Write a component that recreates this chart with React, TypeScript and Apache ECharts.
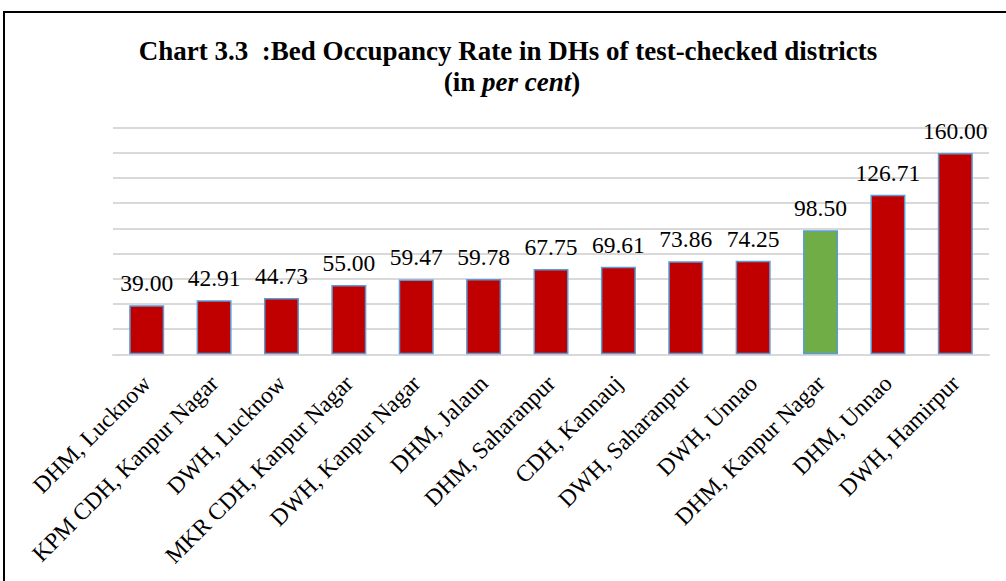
import React, { useEffect, useRef } from "react";
import * as echarts from "echarts";

const categories = [
  "DHM, Lucknow",
  "KPM CDH, Kanpur Nagar",
  "DWH, Lucknow",
  "MKR CDH, Kanpur Nagar",
  "DWH, Kanpur Nagar",
  "DHM, Jalaun",
  "DHM, Saharanpur",
  "CDH, Kannauj",
  "DWH, Saharanpur",
  "DWH, Unnao",
  "DHM, Kanpur Nagar",
  "DHM, Unnao",
  "DWH, Hamirpur",
];
const values = [39.0, 42.91, 44.73, 55.0, 59.47, 59.78, 67.75, 69.61, 73.86, 74.25, 98.5, 126.71, 160.0];
const highlighted = ["DHM, Kanpur Nagar"];

const titleLine1 = "Chart 3.3  :Bed Occupancy Rate in DHs of test-checked districts";

const SERIF = "Liberation Serif";

export default function App() {
  const ref = useRef<HTMLDivElement>(null);
  useEffect(() => {
    if (!ref.current) return;
    const chart = echarts.init(ref.current, null, { renderer: "svg" });
    chart.setOption({
      animation: false,
      backgroundColor: "#ffffff",
      textStyle: { fontFamily: SERIF },
      grid: { left: 113, right: 17, top: 127.7, bottom: 226.7, containLabel: false },
      xAxis: {
        type: "category",
        data: categories,
        axisLine: { show: true, lineStyle: { color: "#D9D9D9", width: 2 } },
        axisTick: { show: false },
        axisLabel: {
          rotate: 45,
          interval: 0,
          margin: 25,
          fontFamily: SERIF,
          fontSize: 23.5,
          color: "#000000",
        },
      },
      yAxis: {
        type: "value",
        min: 0,
        max: 180,
        interval: 20,
        axisLabel: { show: false },
        axisLine: { show: false },
        axisTick: { show: false },
        splitLine: { show: true, lineStyle: { color: "#D9D9D9", width: 2 } },
      },
      series: [
        {
          type: "bar",
          barWidth: 35,
          data: values.map((v, i) => ({
            value: v,
            itemStyle: {
              color: highlighted.includes(categories[i]) ? "#70AD47" : "#C00000",
              borderColor: "#5B9BD5",
              borderWidth: 1.5,
            },
          })),
          label: {
            show: true,
            position: "top",
            distance: 10,
            fontFamily: SERIF,
            fontSize: 23.5,
            color: "#000000",
            formatter: (p: any) => Number(p.value).toFixed(2),
          },
        },
      ],
      graphic: [
        {
          type: "rect",
          shape: { x: 4, y: 12, width: 1010, height: 600 },
          style: { fill: "none", stroke: "#000000", lineWidth: 2 },
          silent: true,
        },
        {
          type: "text",
          x: 508,
          y: 51,
          style: {
            text: titleLine1,
            fontFamily: SERIF,
            fontSize: 27,
            fontWeight: "bold",
            fill: "#000000",
            textAlign: "center",
            textVerticalAlign: "middle",
          },
        },
        {
          type: "text",
          x: 512,
          y: 82,
          style: {
            text: "{b|(in }{bi|per cent}{b|)}",
            textAlign: "center",
            textVerticalAlign: "middle",
            rich: {
              b: { fontFamily: SERIF, fontSize: 27, fontWeight: "bold", fill: "#000000" },
              bi: { fontFamily: SERIF, fontSize: 27, fontWeight: "bold", fontStyle: "italic", fill: "#000000" },
            },
          },
        },
      ],
    });
    return () => chart.dispose();
  }, []);
  return (
    <div
      ref={ref}
      style={{ position: "fixed", left: 0, top: 0, width: 1006, height: 581 }}
    />
  );
}
